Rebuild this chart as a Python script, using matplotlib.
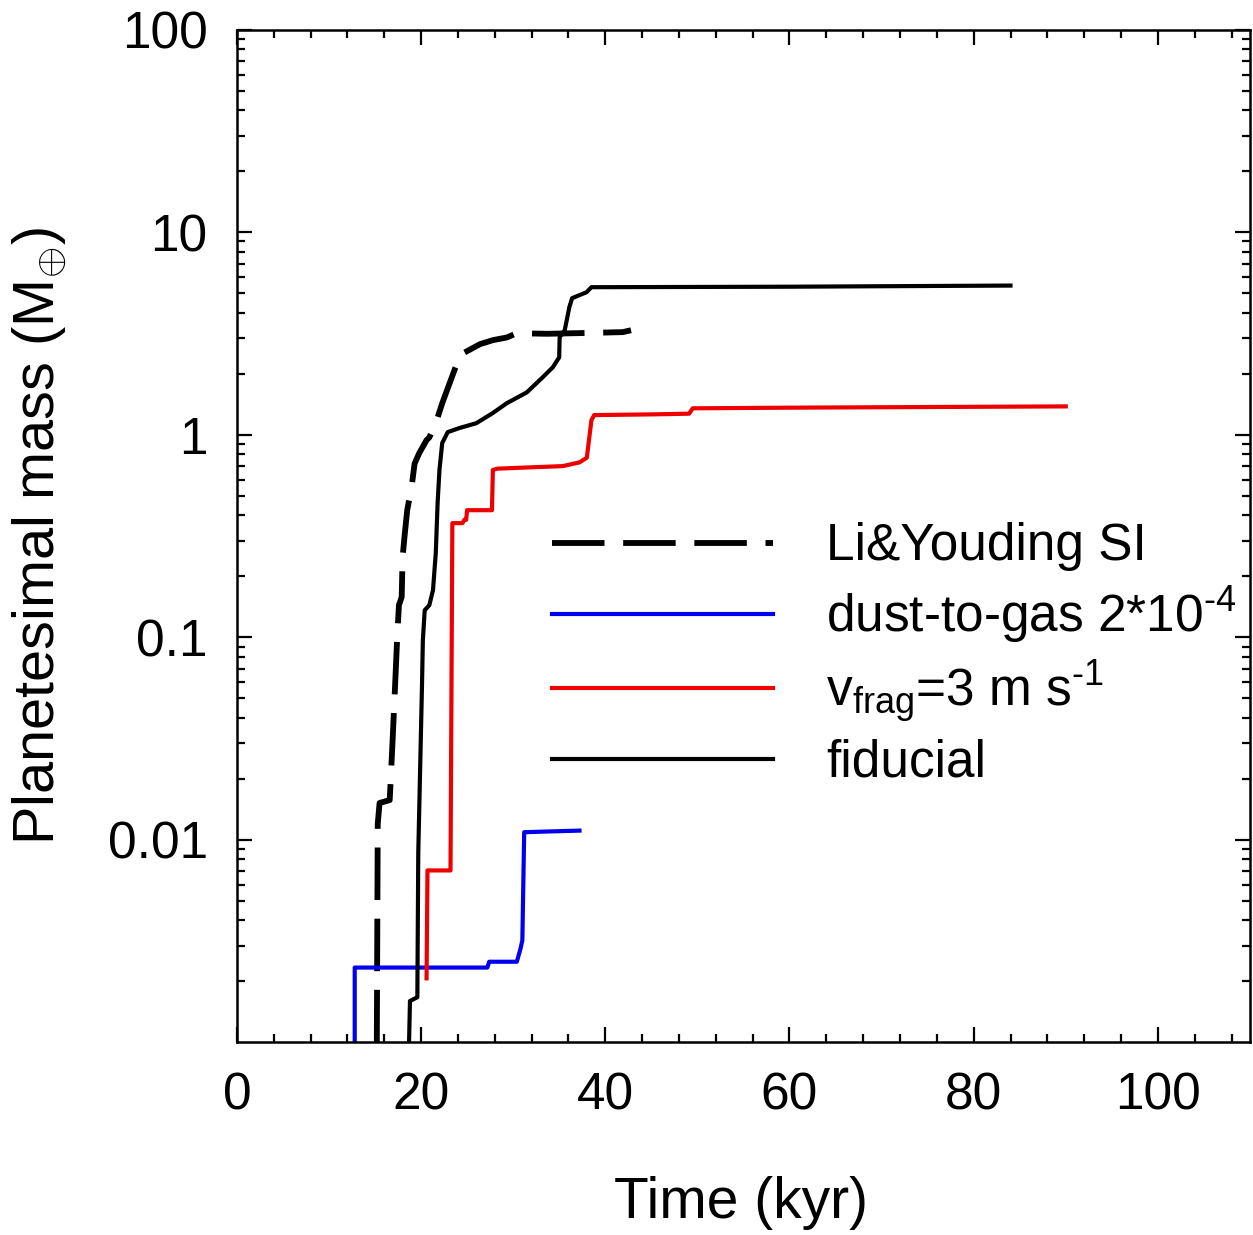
import matplotlib

matplotlib.use("Agg")
import matplotlib.pyplot as plt
from matplotlib.ticker import MultipleLocator, LogLocator, NullFormatter, FixedLocator, FixedFormatter

plt.rcParams["font.family"] = ["Liberation Sans", "DejaVu Sans"]
plt.rcParams["mathtext.fontset"] = "custom"
plt.rcParams["mathtext.rm"] = "Liberation Sans"
plt.rcParams["mathtext.it"] = "Liberation Sans"

# Li & Youding SI (dashed black)
li_t = [15.2, 15.3, 15.5, 16.6, 16.9, 17.2, 17.4, 17.6, 17.9, 18.0, 18.2, 18.5, 19.0, 19.3, 19.8, 20.6,
        20.9, 21.6, 22.3, 23.9, 24.2, 26.4, 27.8, 29.3, 30.4, 33.7, 38.0, 41.9, 42.8]
li_m = [0.001, 0.012, 0.0152, 0.0157, 0.030, 0.06, 0.097, 0.144, 0.158, 0.248, 0.312, 0.424, 0.563, 0.72, 0.81, 0.94,
        0.97, 1.14, 1.43, 2.25, 2.47, 2.80, 2.93, 3.02, 3.17, 3.15, 3.18, 3.21, 3.28]

# dust-to-gas 2*10^-4 (blue)
dg_t = [12.8, 12.8, 27.2, 27.4, 30.4, 30.8, 31.0, 31.2, 34.0, 37.2]
dg_m = [0.001, 0.00234, 0.00234, 0.0025, 0.0025, 0.0029, 0.00319, 0.0109, 0.011, 0.0111]

# v_frag = 3 m/s (red)
vf_t = [20.6, 20.7, 23.2, 23.4, 24.5, 24.7, 24.9, 25.0, 27.7, 27.8, 28.3, 35.4, 37.2, 38.0, 38.5, 38.8,
        45.0, 49.1, 49.5, 60.0, 75.0, 90.0]
vf_m = [0.00207, 0.00706, 0.00706, 0.366, 0.366, 0.38, 0.38, 0.424, 0.424, 0.67, 0.68, 0.70, 0.73, 0.77, 1.18, 1.25,
        1.26, 1.27, 1.35, 1.36, 1.37, 1.38]

# fiducial (solid black)
fi_t = [18.7, 18.8, 19.6, 19.7, 20.1, 20.2, 20.4, 20.9, 21.3, 21.6, 21.8, 22.0, 22.3, 22.9, 24.2, 26.0,
        27.8, 29.3, 31.5, 33.2, 34.3, 35.0, 35.05, 35.6, 36.1, 36.4, 37.96, 38.5, 60.0, 84.0]
fi_m = [0.001, 0.0016, 0.00167, 0.0086, 0.0566, 0.097, 0.136, 0.144, 0.171, 0.26, 0.46, 0.67, 0.91, 1.03, 1.08, 1.14,
        1.28, 1.43, 1.62, 1.92, 2.15, 2.41, 3.03, 3.28, 4.26, 4.72, 5.05, 5.35, 5.38, 5.45]

fig = plt.figure(figsize=(12.53, 12.35), dpi=100)
ax = fig.add_axes([0.189, 0.156, 0.8086, 0.82])

ax.plot(li_t, li_m, color="black", lw=4.2, ls=(0, (9.0, 3.2)), label="Li&Youding SI")
ax.plot(dg_t, dg_m, color="#0000ee", lw=3.0, label="dust-to-gas 2*10$^{\u2010 4}$")
ax.plot(vf_t, vf_m, color="#ee0000", lw=3.0, label="v$_{\\rm frag}$=3 m s$^{\u2010 1}$")
ax.plot(fi_t, fi_m, color="black", lw=3.0, label="fiducial")

ax.set_yscale("log")
ax.set_xlim(0, 110)
ax.set_ylim(0.001, 100)
ax.xaxis.set_major_locator(FixedLocator([0, 20, 40, 60, 80, 100]))
ax.xaxis.set_minor_locator(MultipleLocator(4))
ax.yaxis.set_major_locator(FixedLocator([0.01, 0.1, 1, 10, 100]))
ax.yaxis.set_major_formatter(FixedFormatter(["0.01", "0.1", "1", "10", "100"]))
ax.yaxis.set_minor_locator(LogLocator(base=10, subs=range(2, 10)))
ax.yaxis.set_minor_formatter(NullFormatter())

ax.tick_params(which="both", direction="in", top=True, right=True, width=1.6)
ax.tick_params(which="major", length=11)
ax.tick_params(which="minor", length=6)
ax.tick_params(axis="x", which="major", labelsize=37, pad=21)
ax.tick_params(axis="y", which="major", labelsize=37, pad=21)
for s in ax.spines.values():
    s.set_linewidth(1.8)

ax.set_xlabel("Time (kyr)", fontsize=41)
ax.set_ylabel(r"Planetesimal mass (M$_{\oplus}$)", fontsize=41.5)
ax.xaxis.set_label_coords(0.498, -0.132)
ax.yaxis.set_label_coords(-0.167, 0.5)

leg = ax.legend(loc="upper left", bbox_to_anchor=(0.265, 0.559), frameon=False,
                fontsize=37, handlelength=4.3, handletextpad=1.05, labelspacing=0.25)

fig.savefig("out.png", dpi=100)
